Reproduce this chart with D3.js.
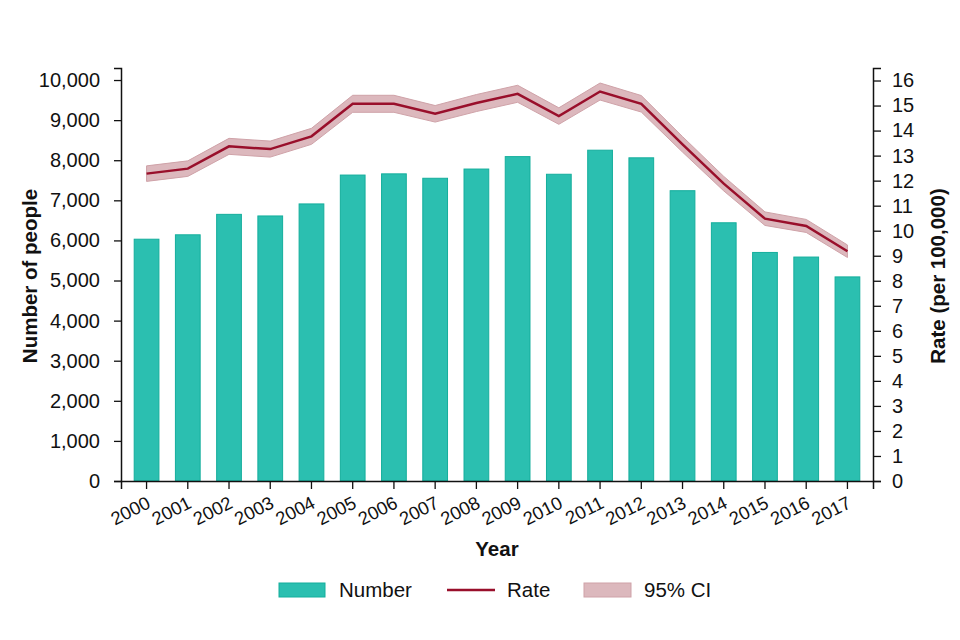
<!DOCTYPE html>
<html>
<head>
<meta charset="utf-8">
<script src="https://cdn.jsdelivr.net/npm/d3@7"></script>
<style>
  body { margin: 0; background: #fff; }
  text { font-family: "Liberation Sans", Arial, sans-serif; fill: #111; }
</style>
</head>
<body>
<div id="chart"></div>
<script>
// Data
const years = ['2000','2001','2002','2003','2004','2005','2006','2007','2008',
               '2009','2010','2011','2012','2013','2014','2015','2016','2017'];
const numbers = [6030, 6140, 6650, 6610, 6910, 7630, 7660, 7550, 7780,
                 8090, 7650, 8250, 8060, 7240, 6440, 5700, 5585, 5090];
const rates = [12.28, 12.48, 13.37, 13.26, 13.77, 15.07, 15.07, 14.67, 15.10,
               15.47, 14.58, 15.56, 15.07, 13.45, 11.88, 10.48, 10.19, 9.18];
const ciLower = [11.97, 12.17, 13.05, 12.94, 13.45, 14.73, 14.73, 14.34, 14.76,
                 15.13, 14.25, 15.22, 14.74, 13.14, 11.59, 10.21, 9.93, 8.93];
const ciUpper = [12.59, 12.79, 13.69, 13.58, 14.09, 15.41, 15.41, 15.00, 15.44,
                 15.81, 14.91, 15.90, 15.40, 13.76, 12.17, 10.75, 10.45, 9.43];
const leftTicks = d3.range(0, 10001, 1000);
const rightTicks = d3.range(0, 17, 1);

const width = 960, height = 640;
const plotLeft = 121, plotRight = 873, plotTop = 68, plotBottom = 481;

const svg = d3.select('#chart').append('svg')
    .attr('width', width)
    .attr('height', height);

const x = d3.scaleBand()
    .domain(years)
    .range([plotLeft, plotRight])
    .paddingInner(0.4)
    .paddingOuter(0.32);

const yLeft = d3.scaleLinear().domain([0, 10300]).range([plotBottom, plotTop]);
const yRight = d3.scaleLinear().domain([0, 16.5]).range([plotBottom, plotTop]);

// Bars
svg.selectAll('.bar')
    .data(years)
    .enter().append('rect')
    .attr('class', 'bar')
    .attr('x', d => x(d))
    .attr('y', (d, i) => yLeft(numbers[i]))
    .attr('width', x.bandwidth())
    .attr('height', (d, i) => yLeft(0) - yLeft(numbers[i]))
    .attr('fill', '#2bbfb0')
    .attr('stroke', '#14ae9c')
    .attr('stroke-width', 1);

const cx = d => x(d) + x.bandwidth() / 2;

// CI band
const area = d3.area()
    .x(d => cx(d))
    .y0((d, i) => yRight(ciLower[i]))
    .y1((d, i) => yRight(ciUpper[i]));

svg.append('path')
    .datum(years)
    .attr('d', area)
    .attr('fill', '#dcb8bd')
    .attr('stroke', '#cfa2a8')
    .attr('stroke-width', 1);

// Rate line
const line = d3.line()
    .x(d => cx(d))
    .y((d, i) => yRight(rates[i]));

svg.append('path')
    .datum(years)
    .attr('d', line)
    .attr('fill', 'none')
    .attr('stroke', '#990f2b')
    .attr('stroke-width', 2.5);

// Axes
const fmt = d3.format(',');

const gLeft = svg.append('g')
    .attr('transform', `translate(${plotLeft},0)`)
    .call(d3.axisLeft(yLeft).tickValues(leftTicks).tickFormat(fmt)
      .tickSizeOuter(0).tickSize(7).tickPadding(14));

const gRight = svg.append('g')
    .attr('transform', `translate(${plotRight},0)`)
    .call(d3.axisRight(yRight).tickValues(rightTicks)
      .tickSizeOuter(0).tickSize(8).tickPadding(11));

const gX = svg.append('g')
    .attr('transform', `translate(0,${plotBottom})`)
    .call(d3.axisBottom(x).tickSizeOuter(0).tickSize(8));

[gLeft, gRight].forEach(g => {
  g.selectAll('text').style('font-size', '20px');
});

gX.selectAll('text')
    .attr('x', 0).attr('y', 0).attr('dy', 0)
    .attr('text-anchor', 'end')
    .attr('transform', 'translate(5,26) rotate(-27)')
    .style('font-size', '18.5px');

[gLeft, gRight, gX].forEach(g => {
  g.selectAll('text').style('fill', '#111');
  g.selectAll('line').attr('stroke', '#111').attr('stroke-width', 1.3);
  g.select('.domain').attr('stroke', '#111').attr('stroke-width', 1.5);
});

// Axis titles
svg.append('text')
    .attr('transform', 'translate(30,276) rotate(-90)')
    .attr('text-anchor', 'middle')
    .attr('dy', '0.35em')
    .style('font-size', '20.5px')
    .style('font-weight', 'bold')
    .text('Number of people');

svg.append('text')
    .attr('transform', 'translate(938,276) rotate(-90)')
    .attr('text-anchor', 'middle')
    .attr('dy', '0.35em')
    .style('font-size', '20.5px')
    .style('font-weight', 'bold')
    .text('Rate (per 100,000)');

svg.append('text')
    .attr('x', 497)
    .attr('y', 556)
    .attr('text-anchor', 'middle')
    .style('font-size', '20.5px')
    .style('font-weight', 'bold')
    .text('Year');

// Legend
const legend = svg.append('g').attr('transform', 'translate(0,590)');

legend.append('rect')
    .attr('x', 279).attr('y', -7).attr('width', 46).attr('height', 14)
    .attr('fill', '#2bbfb0').attr('stroke', '#14ae9c');
legend.append('text')
    .attr('x', 339).attr('y', 0).attr('dy', '0.35em')
    .style('font-size', '20.5px').text('Number');

legend.append('line')
    .attr('x1', 447).attr('x2', 495).attr('y1', 0).attr('y2', 0)
    .attr('stroke', '#990f2b').attr('stroke-width', 2.5);
legend.append('text')
    .attr('x', 507).attr('y', 0).attr('dy', '0.35em')
    .style('font-size', '20.5px').text('Rate');

legend.append('rect')
    .attr('x', 584).attr('y', -7).attr('width', 47).attr('height', 14)
    .attr('fill', '#dcb8bd').attr('stroke', '#cfa2a8');
legend.append('text')
    .attr('x', 644).attr('y', 0).attr('dy', '0.35em')
    .style('font-size', '20.5px').text('95% CI');
</script>
</body>
</html>
